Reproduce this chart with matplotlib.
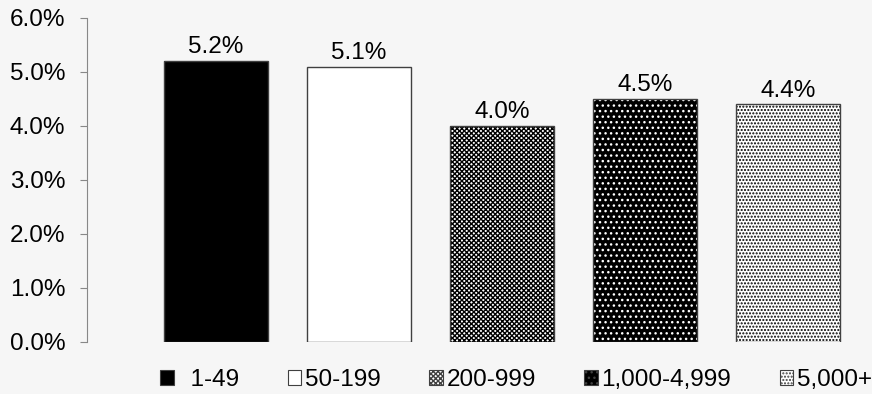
import matplotlib
matplotlib.use("Agg")
import matplotlib.pyplot as plt
from matplotlib.ticker import PercentFormatter

plt.rcParams['font.family'] = ['Liberation Sans', 'DejaVu Sans']

# data
categories = ['1-49', '50-199', '200-999', '1,000-4,999', '5,000+']
values = [5.2, 5.1, 4.0, 4.5, 4.4]
labels = ['5.2%', '5.1%', '4.0%', '4.5%', '4.4%']

# styles per bar: facecolor, hatch, hatch colour
faces = ['black', 'white', 'white', 'black', 'white']
hatches = [None, None, 'xxxxxxx', '...', '.....']
hatch_cols = ['black', 'black', 'black', 'white', 'black']

bg = '#f6f6f6'
fs = 17.5
fig = plt.figure(figsize=(8.72, 3.94), dpi=100, facecolor=bg)
ax = fig.add_axes([87/872, 52/394, 785/872, 324/394])
ax.set_facecolor(bg)

x = range(len(categories))
handles = []
for i in x:
    # hatch layer
    b = ax.bar(i, values[i], width=0.727, color=faces[i], hatch=hatches[i],
               edgecolor=hatch_cols[i], linewidth=0)
    # outline
    ax.bar(i, values[i], width=0.727, color='none', edgecolor='#404040', linewidth=1)
    handles.append(b)
    ax.annotate(labels[i], (i, values[i]), xytext=(0, 2), textcoords='offset points',
                ha='center', va='bottom', fontsize=fs)

ax.set_xlim(-0.902, 4.587)
ax.set_ylim(0, 6)
ax.set_yticks([0, 1, 2, 3, 4, 5, 6])
ax.yaxis.set_major_formatter(PercentFormatter(decimals=1))
ax.tick_params(axis='y', direction='out', length=5, color='#888888', labelsize=fs, pad=10.5)
ax.set_xticks([])
for s in ['top', 'right', 'bottom']:
    ax.spines[s].set_visible(False)
ax.spines['left'].set_color('#888888')

leg_labels = ['  ' + categories[0]] + categories[1:]
leg = fig.legend(handles, leg_labels, loc='center', bbox_to_anchor=(516/872, 14/394), ncol=5,
                 frameon=False, fontsize=fs, handlelength=0.55, handleheight=0.55,
                 handletextpad=0.15, columnspacing=2.0, borderpad=0, borderaxespad=0)
for h in leg.legend_handles:
    h.set_edgecolor('#404040')
    h.set_linewidth(0.8)

fig.savefig('out.png', dpi=100, facecolor=bg)
